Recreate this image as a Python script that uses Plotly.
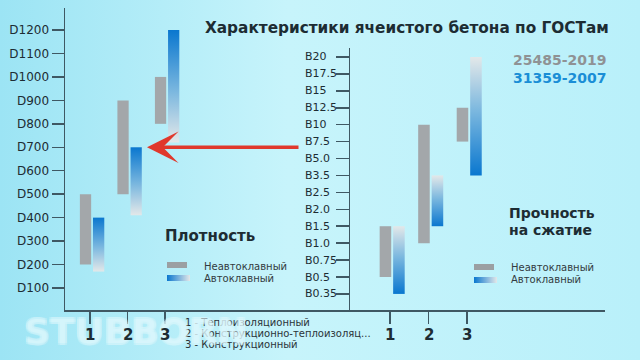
import plotly.graph_objects as go

# ---------------- data ----------------
categories = [1, 2, 3]
category_tick_labels = ["1", "2", "3"]
category_names = ["Теплоизоляционный", "Конструкционно-теплоизоляц...", "Конструкционный"]

density_tick_values = [100, 200, 300, 400, 500, 600, 700, 800, 900, 1000, 1100, 1200]
density_tick_labels = ["D100", "D200", "D300", "D400", "D500", "D600",
                       "D700", "D800", "D900", "D1000", "D1100", "D1200"]
density_nonautoclave_min = [200, 500, 800]
density_nonautoclave_max = [500, 900, 1000]
density_autoclave_min = [170, 410, 720]
density_autoclave_max = [400, 700, 1200]

strength_grades = ["B0.35", "B0.5", "B0.75", "B1.0", "B1.5", "B2.0", "B2.5", "B3.5",
                   "B5.0", "B7.5", "B10", "B12.5", "B15", "B17.5", "B20"]
strength_nonautoclave_min = ["B0.5", "B1.0", "B7.5"]
strength_nonautoclave_max = ["B1.5", "B10", "B12.5"]
strength_autoclave_min = ["B0.35", "B1.5", "B3.5"]
strength_autoclave_max = ["B1.5", "B3.5", "B20"]

# ---------------- style ----------------
FONT = "DejaVu Sans"
DARK = "#1d2c33"
AXIS = "#3f5863"
GRAY = "#a3a7aa"
BLUE_TOP = [[0, "#e3e8e9"], [0.45, "#7cb8df"], [1, "#0a77cf"]]      # 0 = bottom
BLUE_BOTTOM = [[0, "#0a77cf"], [0.55, "#7cb8df"], [1, "#e3e8e9"]]   # 0 = bottom
BAR_W = 0.3
GRAY_OFF = -0.27
BLUE_OFF = 0.08

fig = go.Figure()

# background (pixel-space helper axes x/y, drawn first)
fig.add_trace(go.Scatter(
    x=[0, 640, 640, 0, 0], y=[0, 0, 360, 360, 0], fill="toself", mode="lines",
    line=dict(width=0, color="rgba(0,0,0,0)"),
    fillgradient=dict(type="horizontal",
                      colorscale=[[0, "#9ce4f4"], [0.45, "#c7f4fb"], [1, "#b9f0fa"]]),
    hoverinfo="skip", showlegend=False, xaxis="x", yaxis="y"))


def gradient_bar(xc, lo, hi, scale, xa, ya):
    x0, x1 = xc + BLUE_OFF, xc + BLUE_OFF + BAR_W
    return go.Scatter(
        x=[x0, x1, x1, x0, x0], y=[lo, lo, hi, hi, lo], fill="toself", mode="lines",
        line=dict(width=0, color="rgba(0,0,0,0)"),
        fillgradient=dict(type="vertical", colorscale=scale),
        hoverinfo="skip", showlegend=False, xaxis=xa, yaxis=ya)


# ---- density panel ----
fig.add_trace(go.Bar(
    x=categories,
    y=[h - l for l, h in zip(density_nonautoclave_min, density_nonautoclave_max)],
    base=density_nonautoclave_min, width=BAR_W, offset=GRAY_OFF,
    marker=dict(color=GRAY, line=dict(width=0)), xaxis="x2", yaxis="y2",
    showlegend=False, hoverinfo="skip"))
for c, lo, hi in zip(categories, density_autoclave_min, density_autoclave_max):
    fig.add_trace(gradient_bar(c, lo, hi, BLUE_TOP, "x2", "y2"))

# ---- strength panel ----
idx = {g: i for i, g in enumerate(strength_grades)}
s_na_lo = [idx[g] for g in strength_nonautoclave_min]
s_na_hi = [idx[g] for g in strength_nonautoclave_max]
s_a_lo = [idx[g] for g in strength_autoclave_min]
s_a_hi = [idx[g] for g in strength_autoclave_max]
fig.add_trace(go.Bar(
    x=categories, y=[h - l for l, h in zip(s_na_lo, s_na_hi)], base=s_na_lo,
    width=BAR_W, offset=GRAY_OFF, marker=dict(color=GRAY, line=dict(width=0)),
    xaxis="x3", yaxis="y3", showlegend=False, hoverinfo="skip"))
for c, lo, hi in zip(categories, s_a_lo, s_a_hi):
    fig.add_trace(gradient_bar(c, lo, hi, BLUE_BOTTOM, "x3", "y3"))

# ---- legend swatches (pixel space) ----
for (x0, y0) in [(167, 265), (474, 267)]:
    fig.add_trace(go.Scatter(
        x=[x0, x0 + 20, x0 + 20, x0, x0], y=[y0 - 3, y0 - 3, y0 + 3, y0 + 3, y0 - 3],
        fill="toself", fillcolor="#9b9fa2", mode="lines", line=dict(width=0, color="rgba(0,0,0,0)"),
        hoverinfo="skip", showlegend=False, xaxis="x", yaxis="y"))
    fig.add_trace(go.Scatter(
        x=[x0, x0 + 23, x0 + 23, x0, x0], y=[y0 + 10, y0 + 10, y0 + 16, y0 + 16, y0 + 10],
        fill="toself", mode="lines", line=dict(width=0, color="rgba(0,0,0,0)"),
        fillgradient=dict(type="horizontal", colorscale=[[0, "#0a77cf"], [1, "#e3e8e9"]]),
        hoverinfo="skip", showlegend=False, xaxis="x", yaxis="y"))

axis_common = dict(showgrid=False, zeroline=False, showline=True, linecolor=AXIS,
                   linewidth=1.5, ticks="outside", tickcolor=AXIS, tickwidth=1.5,
                   fixedrange=True)

fig.update_layout(
    width=640, height=360, margin=dict(l=0, r=0, t=0, b=0),
    paper_bgcolor="#b9f0fa", plot_bgcolor="rgba(0,0,0,0)",
    barmode="overlay", hovermode=False, showlegend=False,
    font=dict(family=FONT, color=DARK),
    xaxis=dict(domain=[0, 1], range=[0, 640], visible=False, fixedrange=True),
    yaxis=dict(domain=[0, 1], range=[360, 0], visible=False, fixedrange=True),
    xaxis2=dict(axis_common, domain=[65 / 640, 350 / 640], range=[0.333, 7.93],
                anchor="y2", tickvals=categories, showticklabels=False, ticklen=12),
    yaxis2=dict(axis_common, domain=[1 - 310 / 360, 1 - 8 / 360], range=[6, 1294],
                anchor="x2", tickvals=density_tick_values, ticktext=density_tick_labels,
                ticklen=12, tickfont=dict(family=FONT, size=12, color=DARK)),
    xaxis3=dict(axis_common, domain=[350 / 640, 605 / 640], range=[-0.04, 6.58],
                anchor="y3", tickvals=categories, showticklabels=False, ticklen=12),
    yaxis3=dict(axis_common, domain=[1 - 310 / 360, 1 - 48 / 360], range=[-0.95, 14.53],
                anchor="x3", tickvals=list(range(len(strength_grades))),
                showticklabels=False, ticklen=13),
)

ann = []
# category name list (first, so it cannot mask the watermark)
for k, (lab, name) in enumerate(zip(category_tick_labels, category_names)):
    ann.append(dict(x=183, y=322 + 11 * k, text=f"{lab} - {name}",
                    font=dict(size=10, color="#2a3338")))
# watermark
ann.append(dict(x=22, y=331, text="<b>STUBBORN</b>",
                font=dict(size=36, color="rgba(200,245,253,0.3)",
                          shadow="1px 1px 0 #effcff, -1px -1px 0 #effcff, 1px -1px 0 #effcff, -1px 1px 0 #effcff")))
# strength axis labels (left aligned)
for i, g in enumerate(strength_grades):
    ann.append(dict(x=303, xref="x", y=i, yref="y3", text=g, showarrow=False,
                    xanchor="left", yanchor="middle", font=dict(size=11, color=DARK)))

# category labels under both panels (drawn above the watermark)
for xa in ["x2", "x3"]:
    for c, lab in zip(categories, category_tick_labels):
        ann.append(dict(x=c, xref=xa, y=335, text=f"<b>{lab}</b>", xanchor="center",
                        font=dict(size=15, color=DARK)))

# titles & texts
ann += [
    dict(x=203, y=28, text="<b>Характеристики ячеистого бетона по ГОСТам</b>",
         font=dict(size=15.3, color=DARK)),
    dict(x=608, y=60, text="<b>25485-2019</b>", xanchor="right",
         font=dict(size=14, color="#8f9294")),
    dict(x=608, y=78, text="<b>31359-2007</b>", xanchor="right",
         font=dict(size=14, color="#1a8ed6")),
    dict(x=163, y=236, text="<b>Плотность</b>", font=dict(size=15, color=DARK)),
    dict(x=507, y=213, text="<b>Прочность</b>", font=dict(size=14, color=DARK)),
    dict(x=507, y=230, text="<b>на сжатие</b>", font=dict(size=14, color=DARK)),
    dict(x=202, y=266, text="Неавтоклавный", font=dict(size=10, color="#333b40")),
    dict(x=202, y=278, text="Автоклавный", font=dict(size=10, color="#333b40")),
    dict(x=509, y=267, text="Неавтоклавный", font=dict(size=10, color="#333b40")),
    dict(x=509, y=279, text="Автоклавный", font=dict(size=10, color="#333b40")),
]

for a in ann:
    a.setdefault("xref", "x")
    a.setdefault("yref", "y")
    a.setdefault("showarrow", False)
    a.setdefault("xanchor", "left")
    a.setdefault("yanchor", "middle")

# red arrow pointing to D700
ann.append(dict(x=147, xref="x", y=700, yref="y2", ax=300, axref="x", ay=700, ayref="y2",
                text="", showarrow=True, arrowhead=3, arrowsize=1.5, arrowwidth=3.5,
                arrowcolor="#e0382c"))

fig.update_layout(annotations=ann)

fig.write_html("out.html", config={"displayModeBar": False, "staticPlot": True},
               post_script="document.body.style.margin='0';document.body.style.overflow='hidden';")
